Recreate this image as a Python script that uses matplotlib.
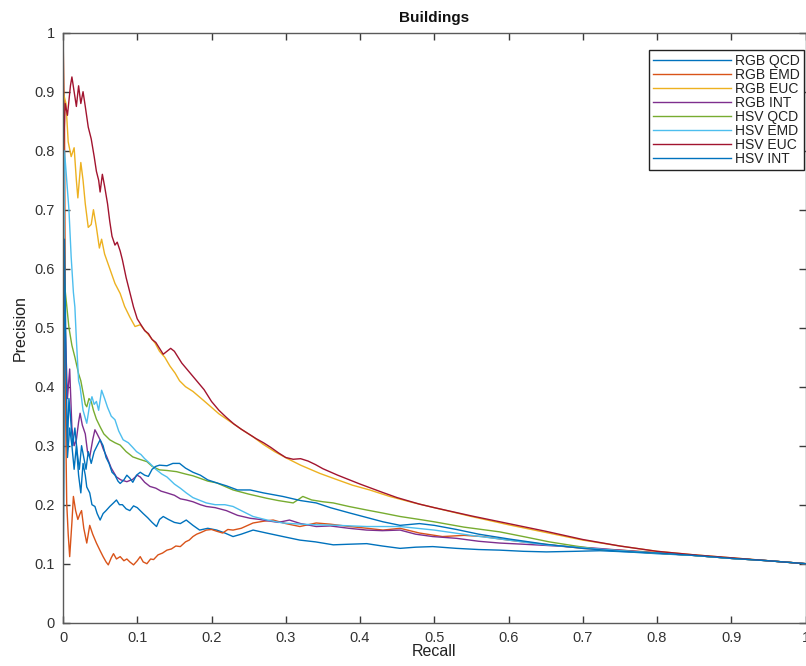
import matplotlib
matplotlib.use("Agg")
import matplotlib.pyplot as plt

plt.rcParams['font.family'] = ['Liberation Sans', 'DejaVu Sans']

labels = ["RGB QCD", "RGB EMD", "RGB EUC", "RGB INT", "HSV QCD", "HSV EMD", "HSV EUC", "HSV INT"]
colors = ["#0072BD", "#D95319", "#EDB120", "#7E2F8E", "#77AC30", "#4DBEEE", "#A2142F", "#0072BD"]

# RGB QCD (lower blue)
rgb_qcd_r = [0, 0.002, 0.004, 0.006, 0.009, 0.012, 0.015, 0.018, 0.021, 0.024, 0.027, 0.03, 0.032, 0.036, 0.039, 0.043, 0.046, 0.05, 0.054, 0.058, 0.063, 0.068, 0.072, 0.076, 0.08, 0.085, 0.09, 0.095, 0.1, 0.104, 0.108, 0.114, 0.12, 0.126, 0.13, 0.135, 0.142, 0.15, 0.158, 0.166, 0.175, 0.184, 0.195, 0.207, 0.218, 0.229, 0.24, 0.256, 0.274, 0.3, 0.319, 0.34, 0.364, 0.385, 0.409, 0.43, 0.454, 0.475, 0.498, 0.53, 0.56, 0.588, 0.62, 0.651, 0.69, 0.723, 0.76, 0.8, 0.85, 0.9, 0.95, 1.0]
rgb_qcd_p = [0.0, 0.55, 0.35, 0.28, 0.33, 0.3, 0.26, 0.3, 0.25, 0.22, 0.27, 0.25, 0.23, 0.22, 0.2, 0.197, 0.185, 0.174, 0.185, 0.19, 0.197, 0.203, 0.208, 0.2, 0.2, 0.193, 0.19, 0.198, 0.195, 0.19, 0.185, 0.178, 0.17, 0.163, 0.175, 0.18, 0.175, 0.17, 0.168, 0.174, 0.165, 0.157, 0.16, 0.157, 0.152, 0.146, 0.15, 0.157, 0.152, 0.145, 0.14, 0.137, 0.132, 0.133, 0.134, 0.13, 0.126, 0.128, 0.129, 0.126, 0.124, 0.123, 0.121, 0.12, 0.121, 0.122, 0.12, 0.117, 0.114, 0.109, 0.105, 0.1]

# RGB EMD (orange)
rgb_emd_r = [0, 0.002, 0.004, 0.005, 0.007, 0.009, 0.012, 0.014, 0.017, 0.02, 0.023, 0.025, 0.028, 0.032, 0.036, 0.04, 0.045, 0.05, 0.054, 0.058, 0.061, 0.065, 0.068, 0.072, 0.077, 0.082, 0.086, 0.09, 0.095, 0.1, 0.104, 0.108, 0.113, 0.118, 0.122, 0.128, 0.134, 0.14, 0.146, 0.152, 0.158, 0.165, 0.17, 0.175, 0.18, 0.186, 0.193, 0.2, 0.207, 0.215, 0.222, 0.229, 0.24, 0.256, 0.27, 0.283, 0.3, 0.319, 0.33, 0.341, 0.36, 0.386, 0.41, 0.431, 0.454, 0.48, 0.511, 0.54, 0.565, 0.6, 0.633, 0.67, 0.7, 0.75, 0.8, 0.85, 0.9, 0.95, 1.0]
rgb_emd_p = [1.0, 0.85, 0.3, 0.203, 0.15, 0.112, 0.17, 0.214, 0.19, 0.175, 0.185, 0.19, 0.16, 0.135, 0.165, 0.15, 0.135, 0.122, 0.112, 0.103, 0.098, 0.11, 0.117, 0.108, 0.112, 0.105, 0.108, 0.103, 0.098, 0.105, 0.112, 0.103, 0.1, 0.108, 0.107, 0.115, 0.118, 0.123, 0.125, 0.13, 0.129, 0.137, 0.14, 0.146, 0.15, 0.153, 0.157, 0.158, 0.155, 0.152, 0.158, 0.157, 0.16, 0.169, 0.172, 0.174, 0.168, 0.163, 0.166, 0.169, 0.167, 0.163, 0.16, 0.157, 0.16, 0.152, 0.146, 0.148, 0.146, 0.14, 0.135, 0.13, 0.126, 0.123, 0.119, 0.114, 0.109, 0.105, 0.1]

# RGB EUC (yellow)
rgb_euc_r = [0, 0.004, 0.007, 0.011, 0.015, 0.018, 0.02, 0.024, 0.027, 0.03, 0.034, 0.038, 0.041, 0.045, 0.049, 0.052, 0.056, 0.063, 0.07, 0.077, 0.083, 0.09, 0.097, 0.104, 0.11, 0.117, 0.124, 0.13, 0.137, 0.144, 0.151, 0.157, 0.165, 0.175, 0.189, 0.2, 0.21, 0.225, 0.24, 0.256, 0.27, 0.285, 0.301, 0.32, 0.346, 0.37, 0.39, 0.413, 0.44, 0.47, 0.5, 0.55, 0.6, 0.65, 0.7, 0.75, 0.8, 0.85, 0.9, 0.95, 1.0]
rgb_euc_p = [0.9, 0.88, 0.815, 0.79, 0.805, 0.75, 0.72, 0.78, 0.75, 0.71, 0.67, 0.675, 0.7, 0.67, 0.635, 0.65, 0.625, 0.6, 0.575, 0.558, 0.536, 0.518, 0.502, 0.505, 0.496, 0.485, 0.474, 0.46, 0.45, 0.435, 0.423, 0.41, 0.4, 0.392, 0.377, 0.365, 0.354, 0.341, 0.328, 0.315, 0.302, 0.29, 0.279, 0.267, 0.253, 0.242, 0.233, 0.225, 0.214, 0.204, 0.195, 0.18, 0.166, 0.153, 0.14, 0.13, 0.121, 0.115, 0.11, 0.105, 0.1]

# RGB INT (purple)
rgb_int_r = [0, 0.003, 0.006, 0.009, 0.012, 0.015, 0.018, 0.021, 0.023, 0.026, 0.03, 0.033, 0.036, 0.04, 0.043, 0.046, 0.05, 0.054, 0.059, 0.065, 0.072, 0.078, 0.086, 0.094, 0.1, 0.104, 0.11, 0.117, 0.125, 0.132, 0.14, 0.15, 0.158, 0.166, 0.175, 0.185, 0.193, 0.205, 0.22, 0.235, 0.252, 0.265, 0.274, 0.29, 0.305, 0.32, 0.341, 0.36, 0.385, 0.409, 0.43, 0.454, 0.475, 0.498, 0.53, 0.56, 0.588, 0.62, 0.65, 0.678, 0.71, 0.75, 0.8, 0.85, 0.9, 0.95, 1.0]
rgb_int_p = [0.45, 0.5, 0.38, 0.43, 0.33, 0.3, 0.31, 0.34, 0.355, 0.335, 0.32, 0.29, 0.281, 0.31, 0.327, 0.32, 0.31, 0.295, 0.281, 0.262, 0.247, 0.242, 0.239, 0.243, 0.25, 0.247, 0.238, 0.231, 0.228, 0.223, 0.22, 0.216, 0.21, 0.208, 0.205, 0.2, 0.197, 0.195, 0.19, 0.182, 0.177, 0.175, 0.173, 0.17, 0.174, 0.168, 0.163, 0.164, 0.16, 0.157, 0.156, 0.157, 0.15, 0.146, 0.143, 0.138, 0.135, 0.133, 0.131, 0.129, 0.127, 0.123, 0.118, 0.114, 0.109, 0.105, 0.1]

# HSV QCD (green)
hsv_qcd_r = [0, 0.004, 0.008, 0.012, 0.016, 0.021, 0.024, 0.027, 0.03, 0.032, 0.035, 0.038, 0.041, 0.045, 0.05, 0.055, 0.063, 0.07, 0.077, 0.085, 0.094, 0.103, 0.113, 0.12, 0.13, 0.14, 0.153, 0.165, 0.175, 0.184, 0.195, 0.207, 0.218, 0.229, 0.25, 0.274, 0.29, 0.31, 0.316, 0.323, 0.335, 0.35, 0.364, 0.385, 0.409, 0.43, 0.454, 0.48, 0.5, 0.54, 0.588, 0.62, 0.655, 0.69, 0.723, 0.76, 0.8, 0.85, 0.9, 0.95, 1.0]
hsv_qcd_p = [0.6, 0.55, 0.5, 0.47, 0.45, 0.422, 0.41, 0.39, 0.37, 0.366, 0.38, 0.375, 0.36, 0.345, 0.332, 0.32, 0.31, 0.305, 0.301, 0.29, 0.281, 0.277, 0.273, 0.265, 0.259, 0.258, 0.256, 0.252, 0.249, 0.245, 0.24, 0.237, 0.231, 0.225, 0.218, 0.211, 0.207, 0.203, 0.208, 0.214, 0.208, 0.205, 0.203, 0.197, 0.191, 0.186, 0.18, 0.175, 0.171, 0.162, 0.154, 0.146, 0.137, 0.13, 0.124, 0.121, 0.118, 0.114, 0.109, 0.105, 0.1]

# HSV EMD (light blue)
hsv_emd_r = [0, 0.002, 0.005, 0.008, 0.011, 0.014, 0.016, 0.018, 0.021, 0.023, 0.027, 0.032, 0.036, 0.039, 0.042, 0.045, 0.048, 0.052, 0.056, 0.06, 0.065, 0.07, 0.075, 0.081, 0.088, 0.094, 0.099, 0.105, 0.11, 0.117, 0.125, 0.133, 0.14, 0.15, 0.158, 0.166, 0.175, 0.185, 0.193, 0.205, 0.218, 0.229, 0.24, 0.256, 0.275, 0.296, 0.32, 0.341, 0.37, 0.409, 0.454, 0.5, 0.55, 0.6, 0.65, 0.7, 0.75, 0.8, 0.85, 0.9, 0.95, 1.0]
hsv_emd_p = [0.0, 0.8, 0.75, 0.7, 0.62, 0.56, 0.535, 0.48, 0.41, 0.4, 0.36, 0.338, 0.37, 0.383, 0.37, 0.375, 0.36, 0.394, 0.38, 0.365, 0.35, 0.344, 0.325, 0.31, 0.305, 0.297, 0.29, 0.285, 0.278, 0.27, 0.26, 0.252, 0.247, 0.235, 0.228, 0.22, 0.212, 0.207, 0.203, 0.2, 0.2, 0.197, 0.19, 0.18, 0.174, 0.169, 0.167, 0.166, 0.165, 0.163, 0.163, 0.157, 0.148, 0.14, 0.132, 0.127, 0.122, 0.118, 0.114, 0.109, 0.105, 0.1]

# HSV EUC (dark red)
hsv_euc_r = [0, 0.003, 0.006, 0.01, 0.012, 0.015, 0.018, 0.021, 0.024, 0.027, 0.03, 0.034, 0.038, 0.042, 0.045, 0.048, 0.05, 0.053, 0.056, 0.06, 0.063, 0.066, 0.07, 0.073, 0.077, 0.08, 0.085, 0.09, 0.095, 0.1, 0.105, 0.11, 0.115, 0.12, 0.125, 0.13, 0.135, 0.14, 0.145, 0.15, 0.155, 0.16, 0.17, 0.18, 0.19, 0.2, 0.21, 0.22, 0.23, 0.24, 0.25, 0.26, 0.27, 0.28, 0.29, 0.3, 0.31, 0.32, 0.33, 0.34, 0.35, 0.37, 0.4, 0.43, 0.45, 0.48, 0.5, 0.55, 0.6, 0.65, 0.7, 0.75, 0.8, 0.85, 0.9, 0.95, 1.0]
hsv_euc_p = [0.78, 0.88, 0.86, 0.91, 0.925, 0.9, 0.875, 0.91, 0.88, 0.9, 0.875, 0.84, 0.82, 0.79, 0.765, 0.75, 0.73, 0.76, 0.74, 0.71, 0.68, 0.655, 0.64, 0.645, 0.63, 0.615, 0.585, 0.56, 0.535, 0.515, 0.505, 0.495, 0.49, 0.48, 0.475, 0.465, 0.455, 0.46, 0.465, 0.46, 0.45, 0.44, 0.425, 0.41, 0.395, 0.375, 0.36, 0.348, 0.337, 0.328, 0.32, 0.312, 0.305, 0.297, 0.288, 0.28, 0.277, 0.278, 0.274, 0.268, 0.261, 0.25, 0.235, 0.221, 0.212, 0.201, 0.195, 0.181, 0.168, 0.155, 0.141, 0.13, 0.121, 0.115, 0.11, 0.105, 0.1]

# HSV INT (upper blue)
hsv_int_r = [0, 0.002, 0.004, 0.006, 0.008, 0.01, 0.013, 0.016, 0.019, 0.022, 0.025, 0.028, 0.031, 0.034, 0.038, 0.042, 0.046, 0.05, 0.054, 0.058, 0.062, 0.066, 0.07, 0.074, 0.077, 0.082, 0.086, 0.09, 0.094, 0.099, 0.104, 0.11, 0.115, 0.12, 0.125, 0.13, 0.14, 0.148, 0.157, 0.165, 0.175, 0.185, 0.195, 0.207, 0.22, 0.235, 0.252, 0.27, 0.296, 0.32, 0.341, 0.36, 0.386, 0.41, 0.431, 0.454, 0.48, 0.5, 0.53, 0.56, 0.6, 0.65, 0.7, 0.75, 0.8, 0.85, 0.9, 0.95, 1.0]
hsv_int_p = [0.0, 0.65, 0.45, 0.3, 0.38, 0.35, 0.3, 0.33, 0.29, 0.26, 0.3, 0.28, 0.26, 0.29, 0.27, 0.29, 0.3, 0.31, 0.3, 0.28, 0.27, 0.255, 0.25, 0.24, 0.236, 0.242, 0.25, 0.245, 0.238, 0.25, 0.255, 0.25, 0.248, 0.26, 0.265, 0.267, 0.266, 0.27, 0.27, 0.262, 0.255, 0.25, 0.242, 0.237, 0.232, 0.225, 0.225, 0.22, 0.214, 0.207, 0.203, 0.195, 0.186, 0.178, 0.171, 0.165, 0.168, 0.165, 0.158, 0.15, 0.142, 0.133, 0.126, 0.121, 0.118, 0.114, 0.109, 0.105, 0.1]

series = [
    (rgb_qcd_r, rgb_qcd_p),
    (rgb_emd_r, rgb_emd_p),
    (rgb_euc_r, rgb_euc_p),
    (rgb_int_r, rgb_int_p),
    (hsv_qcd_r, hsv_qcd_p),
    (hsv_emd_r, hsv_emd_p),
    (hsv_euc_r, hsv_euc_p),
    (hsv_int_r, hsv_int_p),
]

xticks = [0, 0.1, 0.2, 0.3, 0.4, 0.5, 0.6, 0.7, 0.8, 0.9, 1]
yticks = [0, 0.1, 0.2, 0.3, 0.4, 0.5, 0.6, 0.7, 0.8, 0.9, 1]
tick_labels = ["0", "0.1", "0.2", "0.3", "0.4", "0.5", "0.6", "0.7", "0.8", "0.9", "1"]

fig = plt.figure(figsize=(8.06, 6.66), dpi=100)
ax = fig.add_axes([63 / 806, 43.3 / 666, 742.5 / 806, 590 / 666])

for (r, p), c, lab in zip(series, colors, labels):
    ax.plot(r, p, color=c, lw=1.0, label=lab)

ax.set_xlim(0, 1)
ax.set_ylim(0, 1)
ax.set_xticks(xticks)
ax.set_xticklabels(tick_labels)
ax.set_yticks(yticks)
ax.set_yticklabels(tick_labels)

axis_col = "#5a5a5a"
for s in ax.spines.values():
    s.set_color(axis_col)
    s.set_linewidth(1.0)
ax.tick_params(direction="in", top=True, right=True, length=5, width=1.0,
               color="#3a3a3a", labelcolor="#333333", labelsize=10.5, pad=6)

ax.set_xlabel("Recall", fontsize=11.5, color="#222222", labelpad=-1)
ax.set_ylabel("Precision", fontsize=11.5, color="#222222", labelpad=5)
ax.set_title("Buildings", fontsize=11, fontweight="bold", color="#111111", pad=8)

leg = ax.legend(loc="upper right", bbox_to_anchor=(0.998, 0.971),
                handlelength=5.6, handletextpad=0.3, labelspacing=0.0,
                borderpad=0.3, borderaxespad=0.0, fancybox=False, framealpha=1,
                prop={'family': ['Liberation Sans'], 'size': 10})
leg.get_frame().set_edgecolor("#222222")
leg.get_frame().set_linewidth(1.0)
for t in leg.get_texts():
    t.set_color("#222222")

fig.savefig("out.png", dpi=100)
